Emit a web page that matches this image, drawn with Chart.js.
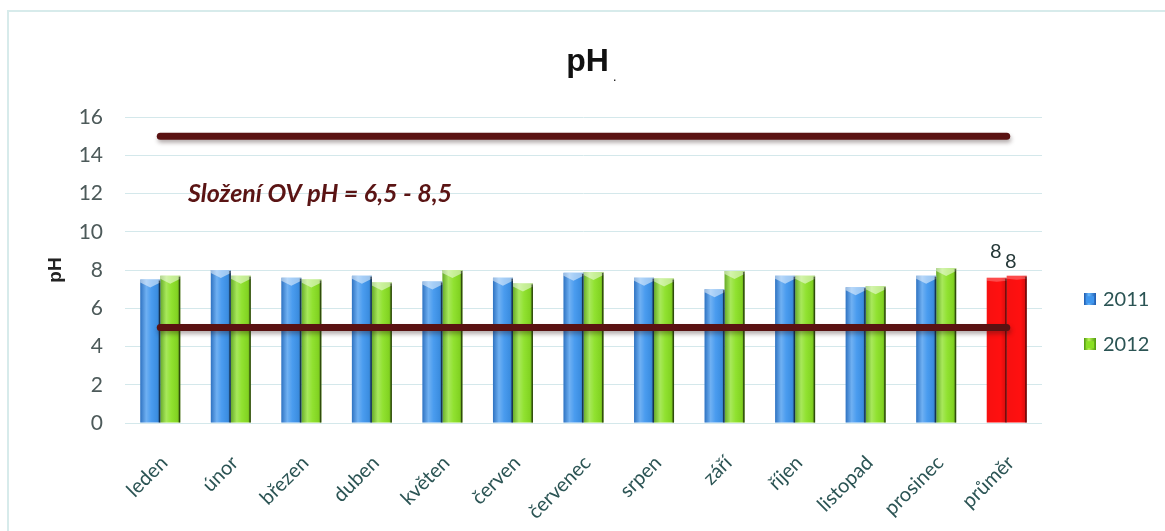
<!DOCTYPE html>
<html>
<head>
<meta charset="utf-8">
<script src="https://cdn.jsdelivr.net/npm/chart.js@4.4.0/dist/chart.umd.min.js"></script>
<style>
  html, body { margin: 0; padding: 0; background: #ffffff; }
  #wrap { position: relative; width: 1165px; height: 531px; overflow: hidden; }
  #frame { position: absolute; left: 7px; top: 10px; width: 1180px; height: 540px;
           border: 2px solid #d7ebeb; box-sizing: border-box; }
  #c { position: absolute; left: 0; top: 0; }
</style>
</head>
<body>
<div id="wrap">
  <div id="frame"></div>
  <canvas id="c" width="1165" height="531"></canvas>
</div>
<script>
// Monthly pH of the outflow water, 2011 and 2012, plus the yearly average
const months = ['leden', 'únor', 'březen', 'duben', 'květen', 'červen', 'červenec',
                'srpen', 'září', 'říjen', 'listopad', 'prosinec', 'průměr'];
const ph2011 = [7.5, 8.0, 7.6, 7.7, 7.4, 7.6, 7.85, 7.6, 7.0, 7.7, 7.1, 7.7, 7.6];
const ph2012 = [7.7, 7.7, 7.5, 7.35, 8.0, 7.3, 7.9, 7.55, 7.95, 7.7, 7.15, 8.1, 7.7];
// Limit lines drawn across all categories
const limitHigh = [15, 15, 15, 15, 15, 15, 15, 15, 15, 15, 15, 15, 15];
const limitLow  = [5, 5, 5, 5, 5, 5, 5, 5, 5, 5, 5, 5, 5];
const seriesNames = ['2011', '2012'];
const yMin = 0, yMax = 16, yStep = 2;
const normNote = 'Složení OV pH = 6,5 - 8,5';
const normNoteAt = 12;            // y value the note sits on
const labelledCategory = 'průměr'; // only the average bars carry a value label

// Styles
const BLUE = '#3f96ee', GREEN = '#8ae024', RED = '#ff1010', LIMIT = '#5a1212';
const TEXT_TEAL = '#2b5454';
const LABEL_LIFT = [20, 8];
const LABEL_SHIFT = [-1, -6];

function makeIcon(base, light, dark) {
  const cv = document.createElement('canvas');
  cv.width = 32; cv.height = 12;
  const g = cv.getContext('2d');
  const grad = g.createLinearGradient(20, 0, 32, 0);
  grad.addColorStop(0, dark); grad.addColorStop(0.4, light); grad.addColorStop(1, dark);
  g.fillStyle = grad; g.fillRect(20, 0, 12, 12);
  g.fillStyle = base; g.fillRect(22, 3, 8, 7);
  return cv;
}
const icons = [makeIcon(BLUE, '#66b8ff', '#1d5bb0'), makeIcon(GREEN, '#b8f455', '#4f9a0c')];

const barColors = (c) => months.map(m => m === labelledCategory ? RED : c);

// Force legend column width so the plot area ends where it should
const legendWidth = {
  id: 'legendWidth',
  beforeUpdate(chart) {
    const lg = chart.legend;
    if (lg && !lg._fixedWidth) {
      const fit = lg.fit.bind(lg);
      lg.fit = function () { fit(); this.width = 123; };
      lg._fixedWidth = true;
    }
  }
};

// Soft drop shadow under the limit lines
const lineShadow = {
  id: 'lineShadow',
  beforeDatasetDraw(chart, args) {
    if (args.meta.type !== 'line') return;
    const c = chart.ctx;
    c.save();
    c.shadowColor = 'rgba(40,20,20,0.35)';
    c.shadowBlur = 4;
    c.shadowOffsetX = 1;
    c.shadowOffsetY = 3;
  },
  afterDatasetDraw(chart, args) {
    if (args.meta.type !== 'line') return;
    chart.ctx.restore();
  }
};

// Cylinder-like shading on each bar, using the bar geometry from Chart.js
const barShade = {
  id: 'barShade',
  afterDatasetDraw(chart, args) {
    const meta = args.meta;
    if (meta.type !== 'bar') return;
    const c = chart.ctx;
    c.save();
    meta.data.forEach(el => {
      const p = el.getProps(['x', 'y', 'base', 'width'], true);
      const l = p.x - p.width / 2, r = p.x + p.width / 2, h = p.base - p.y;
      const red = el.options.backgroundColor === RED;
      const g = c.createLinearGradient(l, 0, r, 0);
      if (red) {
        g.addColorStop(0, 'rgba(0,0,0,0.03)');
        g.addColorStop(0.7, 'rgba(0,0,0,0)');
        g.addColorStop(1, 'rgba(60,0,0,0.2)');
      } else {
        g.addColorStop(0, 'rgba(0,10,60,0.25)');
        g.addColorStop(0.3, 'rgba(255,255,255,0.25)');
        g.addColorStop(0.55, 'rgba(255,255,255,0.06)');
        g.addColorStop(0.85, 'rgba(0,0,0,0.06)');
        g.addColorStop(1, 'rgba(0,0,0,0.3)');
      }
      c.fillStyle = g;
      c.fillRect(l, p.y, p.width, h);
      // light cap on top
      c.fillStyle = red ? 'rgba(255,255,255,0.25)' : 'rgba(255,255,255,0.5)';
      c.beginPath();
      c.moveTo(l, p.y); c.lineTo(r, p.y); c.lineTo(r, p.y + 3);
      c.lineTo(p.x, p.y + (red ? 4 : 8)); c.lineTo(l, p.y + 3);
      c.closePath(); c.fill();
      // dark right edge
      c.fillStyle = 'rgba(0,0,0,0.55)';
      c.fillRect(r - 1.5, p.y + 1, 1.5, h - 1);
    });
    c.restore();
  }
};

// Rounded value labels above the average bars
const valueLabels = {
  id: 'valueLabels',
  afterDatasetsDraw(chart) {
    const c = chart.ctx;
    const idx = months.indexOf(labelledCategory);
    c.save();
    c.font = '20px Lato';
    c.fillStyle = '#253838';
    c.textAlign = 'center';
    c.textBaseline = 'alphabetic';
    let k = 0;
    chart.data.datasets.forEach((ds, di) => {
      if (ds.type !== 'bar') return;
      const el = chart.getDatasetMeta(di).data[idx];
      const v = ds.data[idx];
      c.fillText(String(Math.round(v)), el.x + LABEL_SHIFT[k], el.y - LABEL_LIFT[k]);
      k++;
    });
    c.restore();
  }
};

// Note about the permitted range, plus the small mark after the title
const notes = {
  id: 'notes',
  afterDraw(chart) {
    const c = chart.ctx;
    const area = chart.chartArea;
    c.save();
    c.font = 'italic bold 25px Lato';
    c.fillStyle = '#5a1414';
    c.textAlign = 'left';
    c.textBaseline = 'middle';
    c.fillText(normNote, area.left + 63, chart.scales.y.getPixelForValue(normNoteAt));
    const tb = chart.titleBlock;
    c.font = 'bold 32px "Liberation Sans"';
    const w = c.measureText('pH').width;
    const cx = (tb.left + tb.right) / 2;
    c.font = '14px "Liberation Sans"';
    c.fillStyle = '#222';
    c.textBaseline = 'alphabetic';
    c.fillText('.', cx + w / 2 + 4, tb.top + 18 + 38);
    c.restore();
  }
};

const ctx = document.getElementById('c').getContext('2d');
new Chart(ctx, {
  type: 'bar',
  data: {
    labels: months,
    datasets: [
      { type: 'line', label: 'max', data: limitHigh, borderColor: LIMIT, borderWidth: 7,
        borderCapStyle: 'round', pointRadius: 0, fill: false, order: 0 },
      { type: 'line', label: 'min', data: limitLow, borderColor: LIMIT, borderWidth: 7,
        borderCapStyle: 'round', pointRadius: 0, fill: false, order: 0 },
      { type: 'bar', label: seriesNames[0], data: ph2011, backgroundColor: barColors(BLUE),
        categoryPercentage: 0.567, barPercentage: 1, order: 1 },
      { type: 'bar', label: seriesNames[1], data: ph2012, backgroundColor: barColors(GREEN),
        categoryPercentage: 0.567, barPercentage: 1, order: 1 }
    ]
  },
  options: {
    responsive: false,
    animation: false,
    devicePixelRatio: 1,
    layout: { padding: { left: 10, right: 0, top: 25, bottom: 0 } },
    plugins: {
      title: {
        display: true, text: 'pH', color: '#111',
        font: { family: '"Liberation Sans"', size: 32, weight: 'bold' },
        padding: { top: 18, bottom: 35.6 }
      },
      legend: {
        position: 'right',
        title: { display: true, text: '', font: { size: 12 }, padding: { top: 36, bottom: 37 } },
        labels: {
          usePointStyle: true, pointStyleWidth: 26, boxHeight: 12, padding: 25,
          color: TEXT_TEAL, font: { family: 'Lato', size: 20 },
          generateLabels(chart) {
            const out = [];
            chart.data.datasets.forEach((ds, i) => {
              if (ds.type !== 'bar') return;
              const k = out.length;
              out.push({ text: ds.label, datasetIndex: i, pointStyle: icons[k],
                         fillStyle: k ? GREEN : BLUE, strokeStyle: 'rgba(0,0,0,0)', lineWidth: 0,
                         hidden: false, fontColor: TEXT_TEAL });
            });
            return out;
          }
        }
      },
      tooltip: { enabled: false }
    },
    scales: {
      x: {
        grid: { display: false },
        border: { display: false },
        ticks: { minRotation: 45, maxRotation: 45, autoSkip: false, padding: 20, labelOffset: 4,
                 color: TEXT_TEAL, font: { family: 'Lato', size: 20 } },
        afterFit(s) { s.height = 108; }
      },
      y: {
        min: yMin, max: yMax,
        ticks: { stepSize: yStep, padding: 22, color: '#4d5a5a', font: { family: 'Lato', size: 21 } },
        grid: { color: '#d4e8eb', drawTicks: false },
        border: { display: false },
        title: { display: true, text: 'pH', color: '#222',
                 font: { family: '"Liberation Sans"', size: 19, weight: 'bold' },
                 padding: { top: 34, bottom: 0 } },
        afterFit(s) { s.width = 115; }
      }
    }
  },
  plugins: [legendWidth, lineShadow, barShade, valueLabels, notes]
});
</script>
</body>
</html>
